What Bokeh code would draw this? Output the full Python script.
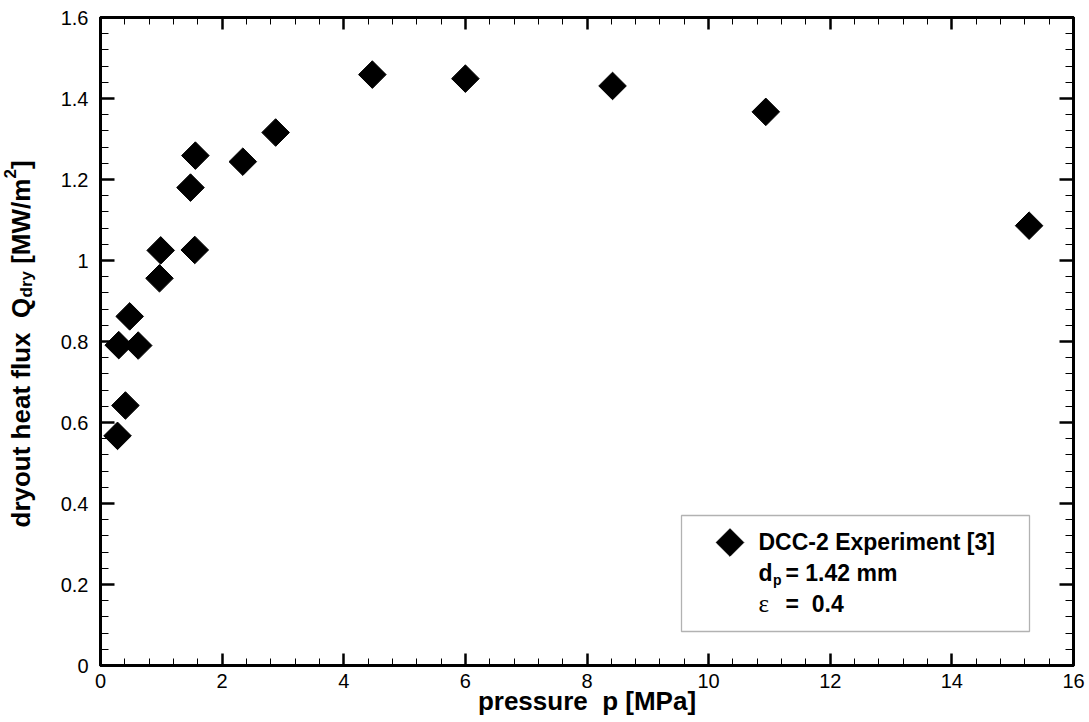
import numpy as np
from bokeh.plotting import figure
from bokeh.layouts import row
from bokeh.models import (Range1d, LinearAxis, FixedTicker, Label, BoxAnnotation,
                          ColumnDataSource, CustomJSTickFormatter)
from bokeh.embed import file_html
from bokeh.resources import INLINE

# ---------------- data ----------------
pressure_mpa = [0.28, 0.41, 0.30, 0.62, 0.48, 0.97, 0.99, 1.48, 1.55, 1.56,
                2.34, 2.88, 4.47, 6.00, 8.42, 10.94, 15.27]
dryout_heat_flux = [0.567, 0.642, 0.791, 0.790, 0.862, 0.956, 1.025, 1.180, 1.026, 1.259,
                    1.244, 1.316, 1.459, 1.449, 1.431, 1.367, 1.086]

x_ticks = [0, 2, 4, 6, 8, 10, 12, 14, 16]
x_tick_labels = ["0", "2", "4", "6", "8", "10", "12", "14", "16"]
y_ticks = [0.0, 0.2, 0.4, 0.6, 0.8, 1.0, 1.2, 1.4, 1.6]
y_tick_labels = ["0", "0.2", "0.4", "0.6", "0.8", "1", "1.2", "1.4", "1.6"]

x_title = "pressure\u00a0 p [MPa]"
legend_series = "DCC-2 Experiment [3]"
legend_dp_value = "= 1.42 mm"
legend_eps_value = "=\u00a0 0.4"

# ---------------- layout ----------------
W, H = 1089, 722
LW = 50                               # width of the strip holding the y title
FL, FR, FT, FB = 100, 1073, 17, 665   # frame edges (canvas px)
X0, X1, Y0, Y1 = 0, 16, 0, 1.6
TXT_DY = -8                           # baseline correction for Label text

p = figure(width=W - LW, height=H, x_range=Range1d(X0, X1), y_range=Range1d(Y0, Y1),
           output_backend="svg", toolbar_location=None,
           min_border_left=FL - LW, min_border_right=W - FR,
           min_border_top=FT, min_border_bottom=H - FB)
p.grid.visible = False
p.outline_line_color = "black"
p.outline_line_width = 3
p.background_fill_color = "white"
p.border_fill_color = "white"

x_minor = [float(v) for v in np.arange(X0, X1 + 1e-9, 0.4)]
y_minor = [float(v) for v in np.arange(Y0, Y1 + 1e-9, 0.04)]

blank = CustomJSTickFormatter(code="return ''")


def style_axis(ax, ticks, minor, labels, major_in, minor_in, standoff):
    ax.ticker = FixedTicker(ticks=ticks, minor_ticks=minor)
    if labels is not None:
        ax.major_label_overrides = {t: l for t, l in zip(ticks, labels)}
        ax.major_label_text_font_size = "20px"
    else:
        ax.formatter = blank
    ax.axis_line_width = 3
    ax.axis_line_color = "black"
    ax.major_tick_in = major_in
    ax.major_tick_out = 0
    ax.minor_tick_in = minor_in
    ax.minor_tick_out = 0
    ax.major_tick_line_width = 2.5
    ax.major_tick_line_color = "black"
    ax.minor_tick_line_width = 1
    ax.minor_tick_line_color = "black"
    ax.major_label_text_font = "Liberation Sans"
    ax.major_label_text_color = "black"
    ax.major_label_standoff = standoff


style_axis(p.xaxis[0], x_ticks, x_minor, x_tick_labels, 12, 7, 8)
style_axis(p.yaxis[0], y_ticks, y_minor, y_tick_labels, 14, 8, 12)
p.xaxis[0].axis_label = x_title
p.xaxis[0].axis_label_text_font = "Liberation Sans"
p.xaxis[0].axis_label_text_font_size = "26px"
p.xaxis[0].axis_label_text_font_style = "bold"
p.xaxis[0].axis_label_text_color = "black"
p.xaxis[0].axis_label_standoff = -5

top_axis = LinearAxis()
style_axis(top_axis, x_ticks, x_minor, None, 12, 7, 0)
p.add_layout(top_axis, "above")
right_axis = LinearAxis()
style_axis(right_axis, y_ticks, y_minor, None, 14, 8, 0)
p.add_layout(right_axis, "right")

# ---------------- data markers ----------------
src = ColumnDataSource(dict(x=pressure_mpa, y=dryout_heat_flux))
p.scatter("x", "y", source=src, marker="square", size=19.5, angle=np.pi / 4,
          fill_color="black", line_color="black")


# ---------------- texts ----------------
def add_text(fig, ox, oy, cx, cy, text, size, bold=True, font="Liberation Sans",
             angle=0.0, align="left"):
    fig.add_layout(Label(x=cx - ox, y=oy - cy, x_units="screen", y_units="screen",
                         text=text, text_font=font, text_font_size=f"{size}px",
                         text_font_style="bold" if bold else "normal",
                         text_align=align, text_baseline="alphabetic",
                         angle=angle, text_color="black"))


def ptext(cx, cy, text, size, **kw):
    add_text(p, FL, FB, cx, cy + TXT_DY, text, size, **kw)


# legend box
p.add_layout(BoxAnnotation(left=681 - FL, right=1029 - FL, top=FB - 515, bottom=FB - 631,
                           left_units="screen", right_units="screen",
                           top_units="screen", bottom_units="screen",
                           fill_alpha=0, line_color="black", line_width=1.3))


def to_data_x(cx):
    return X0 + (cx - FL) / (FR - FL) * (X1 - X0)


def to_data_y(cy):
    return Y0 + (FB - cy) / (FB - FT) * (Y1 - Y0)


key_src = ColumnDataSource(dict(x=[to_data_x(729.5)], y=[to_data_y(542)]))
p.scatter("x", "y", source=key_src, marker="square", size=19.5, angle=np.pi / 4,
          fill_color="black", line_color="black")

ptext(758, 549, legend_series, 23)
ptext(758, 580, "d", 23)
ptext(772.5, 587, "p", 14)
ptext(785, 580, legend_dp_value, 23)
ptext(758, 611, "ε", 25, bold=False, font="Liberation Serif")
ptext(785, 611, legend_eps_value, 23)

# ---------------- y title strip (rotated, with sub/superscripts) ----------------
ylab = figure(width=LW, height=H, output_backend="svg", toolbar_location=None,
              x_axis_type=None, y_axis_type=None,
              min_border_left=0, min_border_right=0,
              min_border_top=FT, min_border_bottom=H - FB,
              x_range=Range1d(0, 1), y_range=Range1d(0, 1))
ylab.grid.visible = False
ylab.outline_line_color = None
ylab.background_fill_color = "white"
ylab.border_fill_color = "white"

BX = 20   # nominal baseline position of the rotated title


def ytext(cx, cy, text, size):
    add_text(ylab, 0, FB, cx, cy, text, size, angle=np.pi / 2)


ytext(BX, 527, "dryout heat flux", 26)
ytext(BX, 317.5, "Q", 26)
ytext(BX + 6, 297, "dry", 17)
ytext(BX, 263.3, "[MW/m", 26)
ytext(BX - 11, 178, "2", 17)
ytext(BX, 168.5, "]", 26)

layout = row(ylab, p, spacing=0)
open("out.html", "w").write(file_html(layout, INLINE))
